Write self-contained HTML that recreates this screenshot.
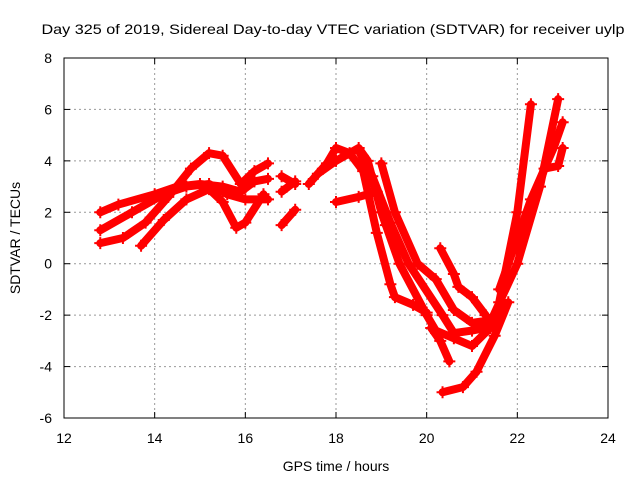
<!DOCTYPE html>
<html><head><meta charset="utf-8"><style>
body{margin:0;background:#fff;}
svg{display:block;font-family:"Liberation Sans",sans-serif;}
</style></head><body>
<svg id="chart" width="640" height="480" viewBox="0 0 640 480">
<rect width="640" height="480" fill="#fff"/>
<text x="333" y="34" font-size="14" text-anchor="middle" textLength="583" lengthAdjust="spacingAndGlyphs">Day 325 of 2019, Sidereal Day-to-day VTEC variation (SDTVAR) for receiver uylp</text>
<g id="grid"></g><g id="ticks"></g><g id="series"></g>
<rect x="64" y="58" width="544" height="360" fill="none" stroke="#000" stroke-width="1"/>
<text x="336" y="471" font-size="14" text-anchor="middle">GPS time / hours</text>
<text x="20" y="238" font-size="14" text-anchor="middle" transform="rotate(-90 20 238)">SDTVAR / TECUs</text>
</svg>
<script>
const xTicks=[12,14,16,18,20,22,24];
const yTicks=[-6,-4,-2,0,2,4,6,8];
const trackA=[[12.8,2.0],[13.2,2.3],[14.0,2.7],[14.5,3.0],[15.0,3.1],[15.5,3.0],[15.9,2.8],[16.2,3.2],[16.5,3.3]];
const trackB=[[12.8,1.3],[13.5,2.0],[14.2,2.7],[14.7,3.0],[15.2,3.1],[15.6,2.7],[16.0,2.5],[16.5,2.5]];
const trackC=[[12.8,0.8],[13.3,1.0],[13.8,1.6],[14.3,2.6],[14.8,3.7],[15.2,4.3],[15.5,4.2],[15.9,3.1],[16.2,3.6],[16.5,3.9]];
const trackD=[[13.7,0.7],[14.2,1.7],[14.7,2.5],[15.2,2.9],[15.5,2.4],[15.8,1.4],[16.0,1.6],[16.4,2.7]];
const trackE=[[16.8,3.4],[17.1,3.1]];
const trackF=[[16.8,2.8],[17.1,3.2]];
const trackG=[[16.8,1.5],[17.1,2.1]];
const trackH=[[17.4,3.1],[17.8,3.9],[18.0,4.5],[18.3,4.3],[18.6,3.6],[18.9,1.2],[19.2,-0.8],[19.3,-1.3],[19.7,-1.6],[20.0,-1.9]];
const trackI=[[17.6,3.5],[18.0,4.0],[18.5,4.5],[18.7,4.0],[19.0,2.0],[19.4,0.0],[20.0,-2.0],[20.2,-2.6],[20.6,-2.9],[21.0,-3.2],[21.4,-2.5],[21.7,-1.5]];
const trackJ=[[18.5,4.4],[18.8,3.4],[19.2,1.6],[19.6,0.0],[20.35,-2.0],[20.6,-2.7],[21.0,-2.6],[21.3,-2.5]];
const trackK=[[19.0,3.9],[19.3,2.0],[19.8,0.0],[20.2,-0.6],[20.6,-1.8],[21.0,-2.3],[21.4,-2.2]];
const trackL=[[18.0,2.4],[18.5,2.6],[18.9,2.8],[19.1,1.5]];
const trackM=[[20.3,0.6],[20.6,-0.4],[20.7,-0.9],[21.0,-1.3],[21.3,-2.0]];
const trackN=[[20.1,-2.5],[20.3,-3.0],[20.5,-3.8]];
const trackO=[[20.35,-5.0],[20.8,-4.8],[21.1,-4.2],[21.5,-2.8],[21.8,-1.5]];
const trackP=[[21.6,-1.5],[22.0,2.0],[22.3,6.2]];
const trackQ=[[21.4,-2.3],[22.0,0.0],[22.5,3.0],[22.9,6.4]];
const trackR=[[21.6,-1.0],[22.3,2.5],[22.8,4.5],[23.0,5.5]];
const trackS=[[22.0,0.5],[22.6,3.7],[22.9,3.8],[23.0,4.5]];
const tracks=[trackA,trackB,trackC,trackD,trackE,trackF,trackG,trackH,trackI,trackJ,trackK,trackL,trackM,trackN,trackO,trackP,trackQ,trackR,trackS];
const X=t=>64+(t-12)*(544/12);
const Y=v=>418-(v+6)*(360/14);
const NS="http://www.w3.org/2000/svg";
function mk(tag,attrs,parent){const e=document.createElementNS(NS,tag);for(const k in attrs)e.setAttribute(k,attrs[k]);parent.appendChild(e);return e;}
const grid=document.getElementById('grid'),ticks=document.getElementById('ticks'),ser=document.getElementById('series');
xTicks.forEach(t=>{
 if(t>12&&t<24){const g=mk('line',{x1:X(t),x2:X(t),y1:58,y2:418,stroke:'#999','stroke-dasharray':'2,3'},grid);
 
 }
 const l=mk('text',{x:X(t),y:443,'font-size':14,'text-anchor':'middle'},ticks);l.textContent=t;
 
 
 mk('line',{x1:X(t),x2:X(t),y1:418,y2:412,stroke:'#000'},ticks);
 mk('line',{x1:X(t),x2:X(t),y1:58,y2:64,stroke:'#000'},ticks);
});
yTicks.forEach(v=>{
 if(v>-6&&v<8){const g=mk('line',{x1:64,x2:608,y1:Y(v),y2:Y(v),stroke:'#999','stroke-dasharray':'2,3'},grid);
 
 }
 const l=mk('text',{x:52,y:Y(v)+5,'font-size':14,'text-anchor':'end'},ticks);l.textContent=v;
 
 
 mk('line',{x1:64,x2:70,y1:Y(v),y2:Y(v),stroke:'#000'},ticks);
 mk('line',{x1:602,x2:608,y1:Y(v),y2:Y(v),stroke:'#000'},ticks);
});
tracks.forEach(tr=>{
 const p=mk('polyline',{points:tr.map(d=>X(d[0])+','+Y(d[1])).join(' '),fill:'none',stroke:'#f00','stroke-width':8,'stroke-linejoin':'round','stroke-linecap':'round'},ser);
 
 
 tr.forEach(d=>{
  const m=mk('path',{d:`M${X(d[0])-6},${Y(d[1])}h12M${X(d[0])},${Y(d[1])-6}v12`,stroke:'#f00','stroke-width':2},ser);
  
  
 });
});
</script>
</body></html>
